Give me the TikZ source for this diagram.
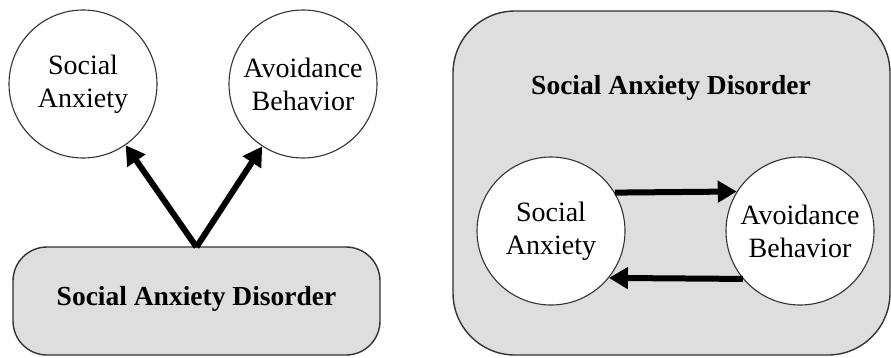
\documentclass[tikz,border=0pt]{standalone}
\usepackage{fontspec}
\setmainfont{Liberation Serif}
\usetikzlibrary{arrows.meta}
\definecolor{panelgray}{HTML}{DEDEDE}
\definecolor{edgegray}{HTML}{333333}
\tikzset{
  concept/.style={circle, draw=edgegray, line width=1.1pt, fill=white,
    minimum size=148pt, inner sep=0pt, align=center,
    font=\fontsize{28}{33}\selectfont},
  panel/.style={draw=edgegray, line width=1.4pt, fill=panelgray},
  title/.style={font=\fontsize{27.5}{33}\selectfont\bfseries},
  effect/.style={line width=6pt, -{Triangle[length=19pt,width=21pt]}}
}
\begin{document}
\begin{tikzpicture}[x=1pt, y=-1pt]
  \useasboundingbox (0,0) rectangle (891,357);

  % Left panel: the disorder gives rise to both components
  \draw[panel, rounded corners=34pt] (13,247) rectangle (380,355);
  \node[title] (lsad) at (196.5,299) {Social Anxiety Disorder};
  \coordinate (lroot) at (196.5,247);
  \node[concept] (lsa) at (83,84) {Social\\Anxiety};
  \node[concept] (lab) at (303,84) {Avoidance\\Behavior};
  \draw[effect] (lroot) -- (lsa);
  \draw[effect] (lroot) -- (lab);

  % Right panel: the disorder as a loop between the components
  \draw[panel, rounded corners=62pt] (453,11) rectangle (890,355);
  \node[title] (rsad) at (671,88) {Social Anxiety Disorder};
  \node[concept] (rsa) at (551,231) {Social\\Anxiety};
  \node[concept] (rab) at (800,231) {Avoidance\\Behavior};
  \draw[effect] (rsa.31.8) -- (rab.148.2);
  \draw[effect] (rab.-140.6) -- (rsa.-39.4);
\end{tikzpicture}
\end{document}
